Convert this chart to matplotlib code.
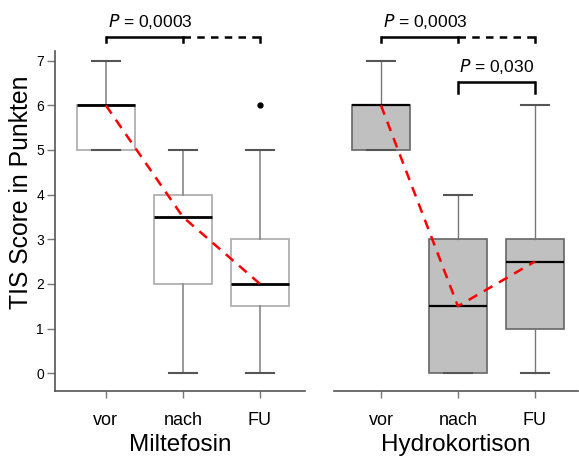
import numpy as np
import matplotlib
matplotlib.use('Agg')
import matplotlib.pyplot as plt

# Daten
gruppen = ['vor', 'nach', 'FU']

milt_q1 = [5, 2, 1.5]
milt_med = [6, 3.5, 2]
milt_q3 = [6, 4, 3]
milt_lo = [5, 0, 0]
milt_hi = [7, 5, 5]
milt_ausreisser = [[], [], [6]]

hydro_q1 = [5, 0, 1]
hydro_med = [6, 1.5, 2.5]
hydro_q3 = [6, 3, 3]
hydro_lo = [5, 0, 0]
hydro_hi = [7, 4, 6]
hydro_ausreisser = [[], [], []]

y_ticks = [0, 1, 2, 3, 4, 5, 6, 7]

plt.rcParams['font.family'] = ['Liberation Sans', 'DejaVu Sans']

W, H = 579, 457
fig = plt.figure(figsize=(W / 100, H / 100), dpi=100)


def px_axes(x0, x1, y0, y1):
    # Pixelkoordinaten -> Figure-Koordinaten
    return fig.add_axes([x0 / W, 1 - y1 / H, (x1 - x0) / W, (y1 - y0) / H])


ax1 = px_axes(55, 305, 0, 391)
ax2 = px_axes(334, 578, 0, 391)

ymin, ymax = -0.4, 8.36


def stats(q1, med, q3, lo, hi, fl):
    out = []
    for i in range(len(q1)):
        out.append(dict(q1=q1[i], med=med[i], q3=q3[i], whislo=lo[i],
                        whishi=hi[i], fliers=fl[i]))
    return out


pos = np.arange(1, len(gruppen) + 1)

ax1.bxp(stats(milt_q1, milt_med, milt_q3, milt_lo, milt_hi, milt_ausreisser),
        positions=pos, widths=0.75, patch_artist=True, showfliers=True,
        boxprops=dict(facecolor='white', edgecolor='#b0b0b0', linewidth=1.3),
        medianprops=dict(color='black', linewidth=2),
        whiskerprops=dict(color='#888888', linewidth=1.2),
        capprops=dict(color='#555555', linewidth=1.5),
        capwidths=0.37,
        flierprops=dict(marker='o', markerfacecolor='black',
                        markeredgecolor='black', markersize=3.5))

ax2.bxp(stats(hydro_q1, hydro_med, hydro_q3, hydro_lo, hydro_hi, hydro_ausreisser),
        positions=pos, widths=0.75, patch_artist=True, showfliers=True,
        boxprops=dict(facecolor='#c0c0c0', edgecolor='#666666', linewidth=1.2),
        medianprops=dict(color='black', linewidth=1.6),
        whiskerprops=dict(color='#777777', linewidth=1.0),
        capprops=dict(color='#555555', linewidth=1.5),
        capwidths=0.37)

# rote gestrichelte Linie durch die Mediane
ax1.plot(pos, milt_med, color='red', linestyle=(0, (4, 3)), linewidth=1.8, zorder=5)
ax2.plot(pos, hydro_med, color='red', linestyle=(0, (4, 3)), linewidth=1.8, zorder=5)

ax1.set_xlim(0.34, 3.585)
ax2.set_xlim(0.39, 3.56)
for ax in (ax1, ax2):
    ax.set_ylim(ymin, ymax)
    ax.set_xticks(pos)
    ax.set_xticklabels(gruppen, fontsize=13)
    ax.spines['top'].set_visible(False)
    ax.spines['right'].set_visible(False)
    ax.spines['bottom'].set_color('#555555')
    ax.spines['bottom'].set_linewidth(1.2)
    ax.tick_params(axis='x', length=5, width=1, color='#777777', pad=10)

ax1.spines['left'].set_bounds(ymin, 7.22)
ax1.spines['left'].set_color('#555555')
ax1.spines['left'].set_linewidth(1.2)
ax1.set_yticks(y_ticks)
ax1.set_yticklabels([str(t) for t in y_ticks],
                    family=['Liberation Sans Narrow', 'Liberation Sans'], fontsize=10)
ax1.tick_params(axis='y', length=6, width=1, color='#777777', pad=2)

ax2.spines['left'].set_visible(False)
ax2.set_yticks([])

ax1.set_xlabel('Miltefosin', fontsize=17.5, labelpad=4)
ax2.set_xlabel('Hydrokortison', fontsize=17.5, labelpad=4)
fig.text(21 / W, 1 - 192 / H, 'TIS Score in Punkten', rotation=90,
         fontsize=17.8, ha='center', va='center')


# Signifikanz-Klammern
def klammer(ax, x0, x1, y, tick, dashed=False, tick0=True, tick1=True):
    ls = (0, (3, 2.5)) if dashed else '-'
    ax.plot([x0, x1], [y, y], color='black', linewidth=1.8, linestyle=ls,
            clip_on=False, solid_capstyle='butt')
    if tick0:
        ax.plot([x0, x0], [y, y - tick], color='black', linewidth=1.8, clip_on=False)
    if tick1:
        ax.plot([x1, x1], [y, y - tick], color='black', linewidth=1.8, clip_on=False)


for ax in (ax1, ax2):
    klammer(ax, 1, 2, 7.53, 0.12)
    klammer(ax, 2, 3, 7.53, 0.12, dashed=True, tick0=False)
    ax.text(1.58, 7.87, r'$\it{P}$ = 0,0003', ha='center', va='center', fontsize=12.5)

klammer(ax2, 2, 3, 6.52, 0.24)
ax2.text(2.5, 6.86, r'$\it{P}$ = 0,030', ha='center', va='center', fontsize=12.5)

fig.savefig('out.png', dpi=100)
